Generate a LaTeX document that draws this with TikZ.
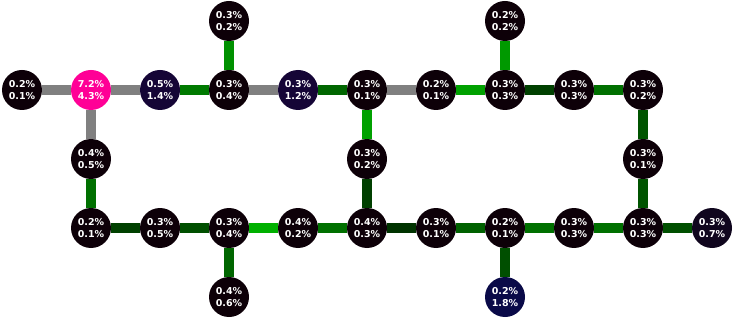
\documentclass[tikz,border=0pt]{standalone}
\usepackage{fontspec}
\setmainfont{DejaVu Sans}
\usepackage{xcolor}
\usetikzlibrary{calc}
\definecolor{nodedark}{HTML}{0D0008}
\definecolor{nodenavy}{HTML}{150536}
\definecolor{nodeblue}{HTML}{0A0A48}
\definecolor{nodeplum}{HTML}{10061E}
\definecolor{nodepink}{HTML}{FF0096}
\definecolor{linkgray}{HTML}{808080}

\begin{document}
\begin{tikzpicture}[x=69pt,y=-69pt,
    cell/.style={circle,fill=nodedark,minimum size=40pt,inner sep=0pt,
      text=white,align=center,font=\bfseries\fontsize{9.5}{11.5}\selectfont},
    link/.style={line width=10pt}]
    \useasboundingbox (-22pt,21pt) rectangle (713pt,-299pt);
    % Top row
    \node[cell] (t3) at (3,0) {0.3\%\\0.2\%};
    \node[cell] (t7) at (7,0) {0.2\%\\0.2\%};
    % Upper line
    \node[cell] (a0) at (0,1) {0.2\%\\0.1\%};
    \node[cell,fill=nodepink] (a1) at (1,1) {7.2\%\\4.3\%};
    \node[cell,fill=nodenavy] (a2) at (2,1) {0.5\%\\1.4\%};
    \node[cell] (a3) at (3,1) {0.3\%\\0.4\%};
    \node[cell,fill=nodenavy] (a4) at (4,1) {0.3\%\\1.2\%};
    \node[cell] (a5) at (5,1) {0.3\%\\0.1\%};
    \node[cell] (a6) at (6,1) {0.2\%\\0.1\%};
    \node[cell] (a7) at (7,1) {0.3\%\\0.3\%};
    \node[cell] (a8) at (8,1) {0.3\%\\0.3\%};
    \node[cell] (a9) at (9,1) {0.3\%\\0.2\%};
    % Middle row
    \node[cell] (m1) at (1,2) {0.4\%\\0.5\%};
    \node[cell] (m5) at (5,2) {0.3\%\\0.2\%};
    \node[cell] (m9) at (9,2) {0.3\%\\0.1\%};
    % Lower line
    \node[cell] (b1) at (1,3) {0.2\%\\0.1\%};
    \node[cell] (b2) at (2,3) {0.3\%\\0.5\%};
    \node[cell] (b3) at (3,3) {0.3\%\\0.4\%};
    \node[cell] (b4) at (4,3) {0.4\%\\0.2\%};
    \node[cell] (b5) at (5,3) {0.4\%\\0.3\%};
    \node[cell] (b6) at (6,3) {0.3\%\\0.1\%};
    \node[cell] (b7) at (7,3) {0.2\%\\0.1\%};
    \node[cell] (b8) at (8,3) {0.3\%\\0.3\%};
    \node[cell] (b9) at (9,3) {0.3\%\\0.3\%};
    \node[cell,fill=nodeplum] (b10) at (10,3) {0.3\%\\0.7\%};
    % Bottom row
    \node[cell] (d3) at (3,4) {0.4\%\\0.6\%};
    \node[cell,fill=nodeblue] (d7) at (7,4) {0.2\%\\1.8\%};
    % Upper links
    \draw[link,linkgray] (a0) -- (a1);
    \draw[link,linkgray] (a1) -- (a2);
    \draw[link,green!48!black] (a2) -- (a3);
    \draw[link,linkgray] (a3) -- (a4);
    \draw[link,green!40!black] (a4) -- (a5);
    \draw[link,linkgray] (a5) -- (a6);
    \draw[link,green!63!black] (a6) -- (a7);
    \draw[link,green!25!black] (a7) -- (a8);
    \draw[link,green!44!black] (a8) -- (a9);
    % Vertical links
    \draw[link,green!57!black] (t3) -- (a3);
    \draw[link,green!60!black] (t7) -- (a7);
    \draw[link,linkgray] (a1) -- (m1);
    \draw[link,green!44!black] (m1) -- (b1);
    \draw[link,green!63!black] (a5) -- (m5);
    \draw[link,green!25!black] (m5) -- (b5);
    \draw[link,green!33!black] (a9) -- (m9);
    \draw[link,green!33!black] (m9) -- (b9);
    \draw[link,green!40!black] (b3) -- (d3);
    \draw[link,green!31!black] (b7) -- (d7);
    % Lower links
    \draw[link,green!25!black] (b1) -- (b2);
    \draw[link,green!31!black] (b2) -- (b3);
    \draw[link,green!69!black] (b3) -- (b4);
    \draw[link,green!44!black] (b4) -- (b5);
    \draw[link,green!20!black] (b5) -- (b6);
    \draw[link,green!38!black] (b6) -- (b7);
    \draw[link,green!44!black] (b7) -- (b8);
    \draw[link,green!44!black] (b8) -- (b9);
    \draw[link,green!31!black] (b9) -- (b10);
  \end{tikzpicture}
\end{document}
